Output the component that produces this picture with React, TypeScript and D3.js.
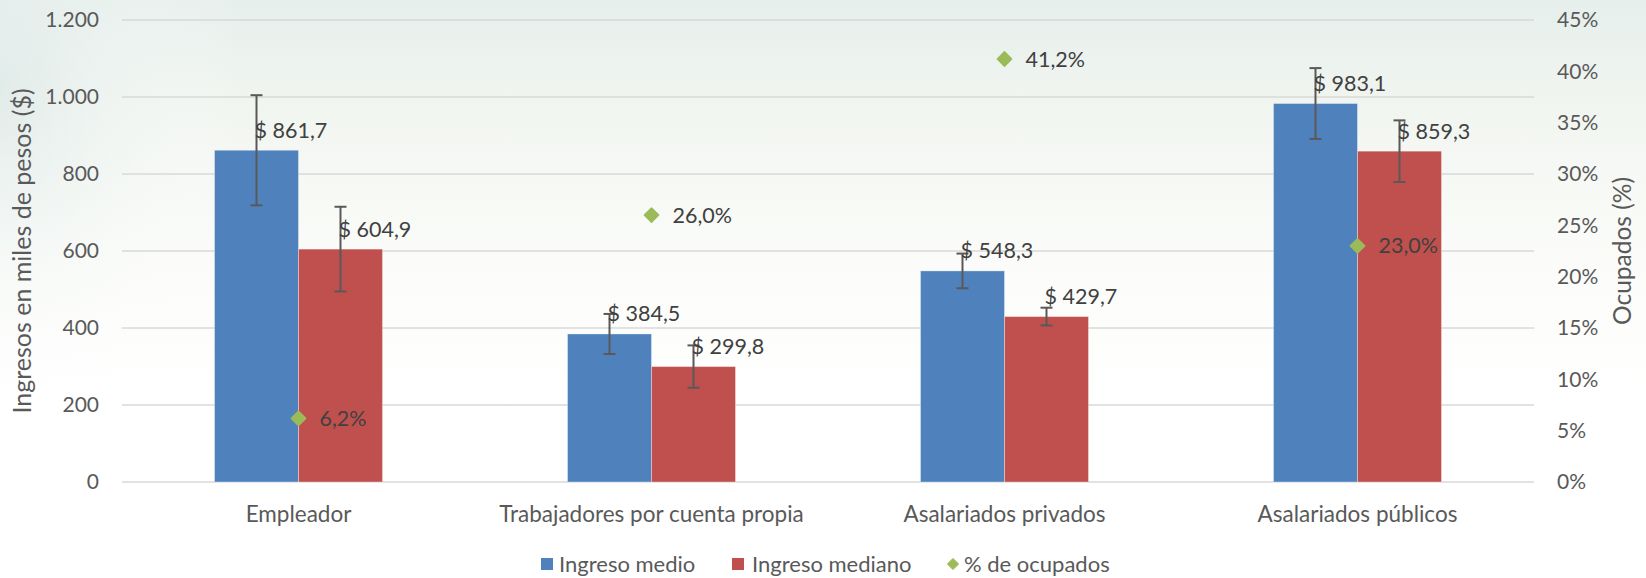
import React from 'react';
import * as d3 from 'd3';

const categories = ['Empleador', 'Trabajadores por cuenta propia', 'Asalariados privados', 'Asalariados públicos'];
const ingresoMedio = [861.7, 384.5, 548.3, 983.1];
const ingresoMediano = [604.9, 299.8, 429.7, 859.3];
const errorMedio = [143, 52, 45, 92];
const errorMediano = [110, 55, 23, 80];
const ocupados = [6.2, 26.0, 41.2, 23.0];
const leftTicks = [0, 200, 400, 600, 800, 1000, 1200];
const rightTicks = [0, 5, 10, 15, 20, 25, 30, 35, 40, 45];

const W = 1646;
const H = 578;
const margin = { top: 20, right: 112, bottom: 96, left: 122 };
const FONT = 'Lato, "Open Sans", sans-serif';

const fmtMoney = (v: number) => '$ ' + v.toFixed(1).replace('.', ',');
const fmtPct = (v: number) => v.toFixed(1).replace('.', ',') + '%';
const fmtTick = d3.formatLocale({ decimal: ',', thousands: '.', grouping: [3], currency: ['$', ''] }).format(',');

const App = () => {
  const x0 = d3.scaleBand().domain(categories).range([margin.left, W - margin.right]);
  const barW = 84;
  const y = d3.scaleLinear().domain([0, 1200]).range([H - margin.bottom, margin.top]);
  const yPct = d3.scaleLinear().domain([0, 45]).range([H - margin.bottom, margin.top]);

  const series = [
    { name: 'Ingreso medio', values: ingresoMedio, errors: errorMedio, color: '#4f81bd', offset: -barW },
    { name: 'Ingreso mediano', values: ingresoMediano, errors: errorMediano, color: '#c0504d', offset: 0 },
  ];

  const center = (c: string) => (x0(c) as number) + x0.bandwidth() / 2;
  const diamond = d3.symbol().type(d3.symbolDiamond2).size(130);
  const midY = (y(0) + y(1200)) / 2;

  return (
    <svg width={W} height={H} style={{ position: 'absolute', left: 0, top: 0, display: 'block' }} fontFamily={FONT}>
      <defs>
        <linearGradient id="bg" x1="0" y1="0" x2="0" y2="1">
          <stop offset="0" stopColor="#e6efec" />
          <stop offset="0.18" stopColor="#f1f5f0" />
          <stop offset="0.45" stopColor="#fbfcf9" />
          <stop offset="0.7" stopColor="#ffffff" />
        </linearGradient>
        <radialGradient id="bgl" cx="0" cy="0.15" r="0.6" gradientTransform="scale(0.25,1)">
          <stop offset="0" stopColor="#dde9e7" stopOpacity="0.8" />
          <stop offset="1" stopColor="#ffffff" stopOpacity="0" />
        </radialGradient>
      </defs>
      <rect width={W} height={H} fill="url(#bg)" />
      <rect width={W} height={H} fill="url(#bgl)" />

      {leftTicks.map((t) => (
        <g key={'g' + t}>
          <line x1={margin.left} x2={W - margin.right} y1={y(t)} y2={y(t)} stroke="#d9d9d9" strokeWidth={1.5} />
          <text x={99} y={y(t)} dy="0.35em" textAnchor="end" fontSize={21} fill="#595959">{fmtTick(t)}</text>
        </g>
      ))}
      {rightTicks.map((t) => (
        <text key={'r' + t} x={1557} y={yPct(t)} dy="0.35em" fontSize={21} fill="#595959">{t}%</text>
      ))}

      <text transform={`translate(22,${midY}) rotate(-90)`} textAnchor="middle" dy="0.35em" fontSize={25} fill="#595959">
        Ingresos en miles de pesos ($)
      </text>
      <text transform={`translate(1622,${midY}) rotate(-90)`} textAnchor="middle" dy="0.35em" fontSize={24.5} fill="#595959">
        Ocupados (%)
      </text>

      {series.map((s) =>
        categories.map((c, i) => {
          const bx = center(c) + s.offset;
          return (
            <rect key={s.name + c} x={bx} y={y(s.values[i])} width={barW} height={y(0) - y(s.values[i])} fill={s.color} stroke="#ffffff" strokeOpacity={0.35} strokeWidth={1} />
          );
        })
      )}

      {series.map((s) =>
        categories.map((c, i) => {
          const cx = center(c) + s.offset + barW / 2;
          const hi = y(s.values[i] + s.errors[i]);
          const lo = y(s.values[i] - s.errors[i]);
          return (
            <g key={'e' + s.name + c} stroke="#595959" strokeWidth={2}>
              <line x1={cx} x2={cx} y1={hi} y2={lo} />
              <line x1={cx - 6} x2={cx + 6} y1={hi} y2={hi} />
              <line x1={cx - 6} x2={cx + 6} y1={lo} y2={lo} />
            </g>
          );
        })
      )}

      {series.map((s) =>
        categories.map((c, i) => {
          const cx = center(c) + s.offset + barW / 2;
          return (
            <text key={'l' + s.name + c} x={cx - 2} y={y(s.values[i]) - 20} dy="0.35em" fontSize={21.5} fill="#404040">
              {fmtMoney(s.values[i])}
            </text>
          );
        })
      )}

      {categories.map((c, i) => (
        <g key={'p' + c}>
          <path d={diamond() as string} transform={`translate(${center(c)},${yPct(ocupados[i])})`} fill="#9bbb59" stroke="#9bbb59" strokeWidth={1.5} strokeLinejoin="round" />
          <text x={center(c) + 21} y={yPct(ocupados[i])} dy="0.35em" fontSize={21.5} fill="#404040">{fmtPct(ocupados[i])}</text>
        </g>
      ))}

      {categories.map((c) => (
        <text key={'c' + c} x={center(c)} y={514} dy="0.35em" textAnchor="middle" fontSize={22.5} fill="#595959">{c}</text>
      ))}

      <g fontSize={22} fill="#595959">
        <rect x={541} y={558} width={12} height={12} fill="#4f81bd" />
        <text x={559} y={564} dy="0.35em">Ingreso medio</text>
        <rect x={732} y={558} width={12} height={12} fill="#c0504d" />
        <text x={752} y={564} dy="0.35em">Ingreso mediano</text>
        <path d={d3.symbol().type(d3.symbolDiamond2).size(80)() as string} transform="translate(953,564)" fill="#9bbb59" stroke="#9bbb59" strokeWidth={1} strokeLinejoin="round" />
        <text x={964} y={564} dy="0.35em">% de ocupados</text>
      </g>
    </svg>
  );
};

export default App;
